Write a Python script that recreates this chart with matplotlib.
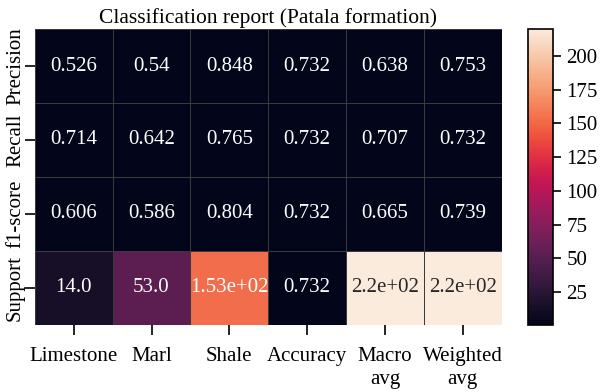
import numpy as np
import pandas as pd
import matplotlib
matplotlib.use("Agg")
import matplotlib.pyplot as plt
import seaborn as sns

classes = ["Limestone", "Marl", "Shale", "Accuracy", "Macro\navg", "Weighted\navg"]
metrics = ["Precision", "Recall", "f1-score", "Support"]

precision = [0.526, 0.54, 0.848, 0.732, 0.638, 0.753]
recall = [0.714, 0.642, 0.765, 0.732, 0.707, 0.732]
f1 = [0.606, 0.586, 0.804, 0.732, 0.665, 0.739]
support = [14.0, 53.0, 153.0, 0.732, 220.0, 220.0]

cbar_ticks = [25, 50, 75, 100, 125, 150, 175, 200]

df = pd.DataFrame([precision, recall, f1, support], index=metrics, columns=classes)

plt.rcParams["font.family"] = ["Liberation Serif", "DejaVu Serif"]

fig = plt.figure(figsize=(6, 3.92), dpi=100)
ax = fig.add_axes([0.058, 0.171, 0.778, 0.755])
cax = fig.add_axes([0.88, 0.171, 0.042, 0.755])

sns.heatmap(df, annot=True, fmt=".3", cmap="rocket", ax=ax, cbar_ax=cax,
            linewidths=0.5, linecolor="#3a3a3a",
            annot_kws={"fontsize": 15})

ax.set_title("Classification report (Patala formation)", fontsize=15.5, pad=4)
ax.tick_params(axis="x", labelsize=15, length=7, width=1.2, pad=9)
ax.tick_params(axis="y", labelsize=15, length=7, width=1.2, pad=0)
ax.set_xticklabels(classes, rotation=0, linespacing=1.3)
ax.set_yticklabels(metrics, rotation=90, va="center")

cb = ax.collections[0].colorbar
cb.set_ticks(cbar_ticks)
cax.tick_params(labelsize=15, length=6, width=1.2)
cb.outline.set_visible(True)
cb.outline.set_linewidth(1.2)
cb.outline.set_edgecolor("black")

fig.savefig("out.png", dpi=100)
